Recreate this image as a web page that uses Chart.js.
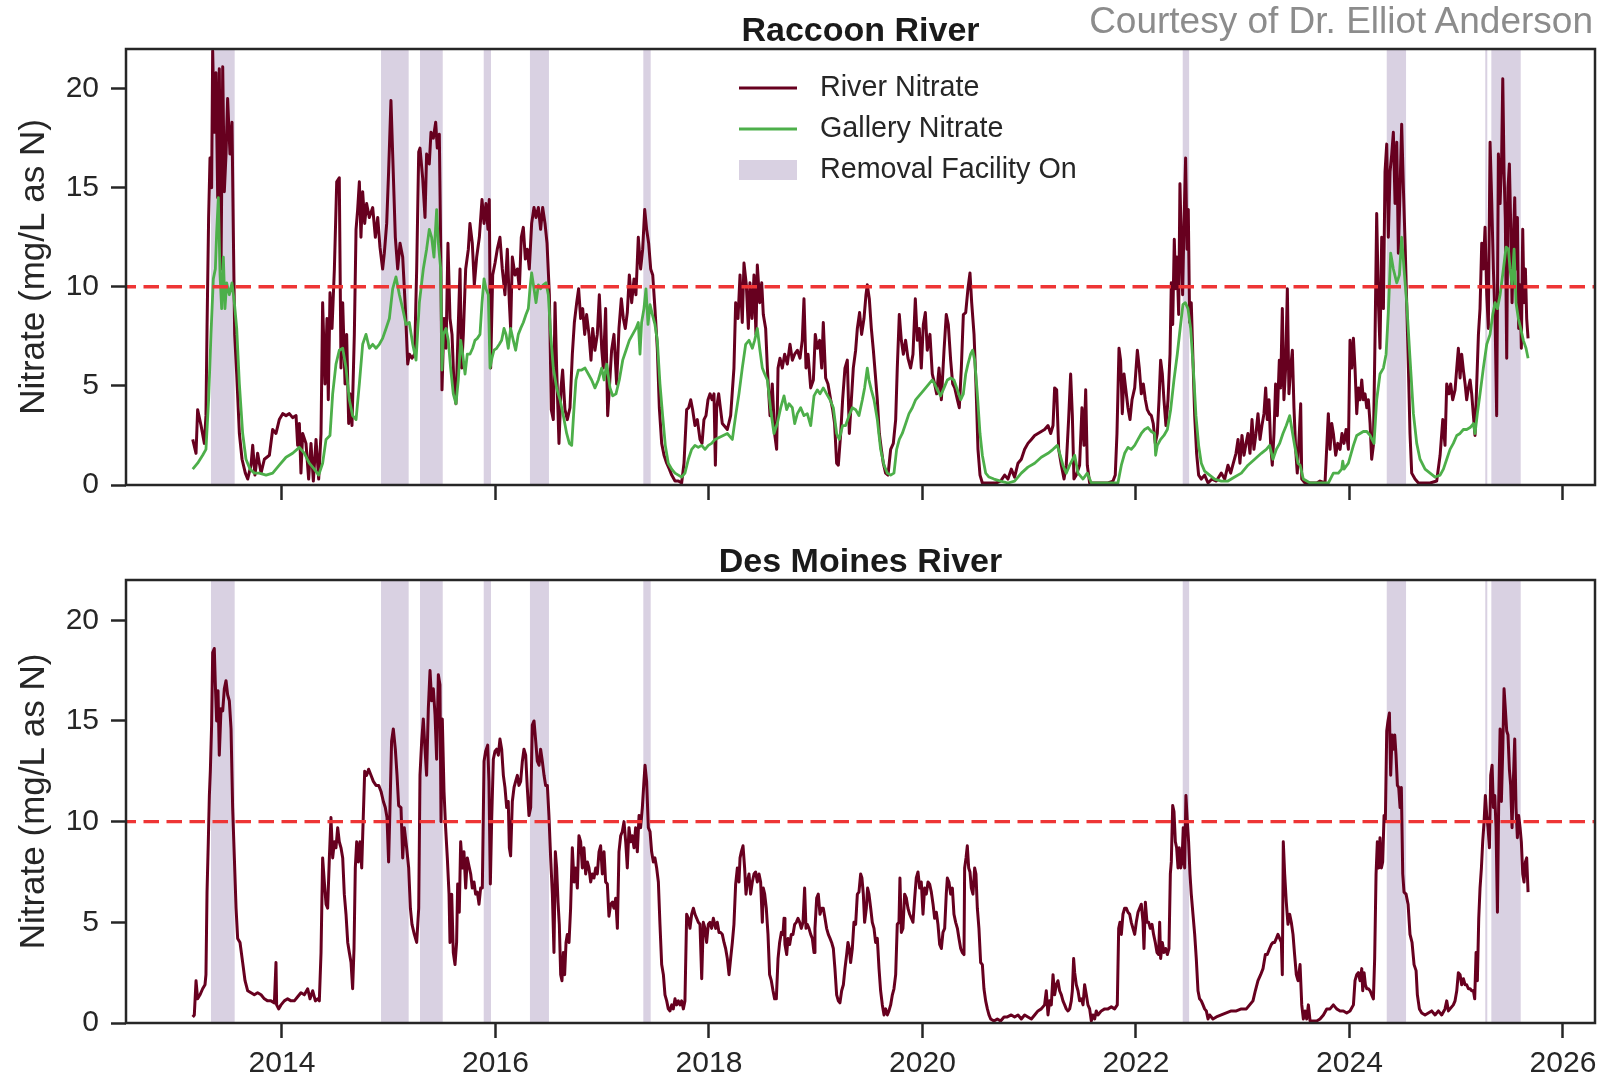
<!DOCTYPE html>
<html>
<head>
<meta charset="utf-8">
<title>Nitrate</title>
<script src="https://cdn.jsdelivr.net/npm/chart.js@4.4.1/dist/chart.umd.min.js"></script>
<style>
  html, body { margin: 0; padding: 0; background: #fff; }
  #page { position: relative; width: 1621px; height: 1078px; font-family: "Liberation Sans", Arial, sans-serif; }
  #top { position: absolute; left: 0; top: 0; width: 1621px; height: 515px; }
  #bottom { position: absolute; left: 0; top: 515px; width: 1621px; height: 563px; }
  #credit { position: absolute; right: 28px; top: 2px; font-size: 37px; line-height: 37px; color: #8c8c8c; white-space: nowrap; }
</style>
</head>
<body>
<div id="page">
  <div id="top"><canvas id="raccoon" width="1621" height="515"></canvas></div>
  <div id="bottom"><canvas id="desmoines" width="1621" height="563"></canvas></div>
  <div id="credit">Courtesy of Dr. Elliot Anderson</div>
</div>
<script>
// ---- data (decimal year, mg/L as N) ----
const xTickYears = [2014, 2016, 2018, 2020, 2022, 2024, 2026];
const yTickValues = [0, 5, 10, 15, 20];
const nitrateLimit = 10;

// periods when the removal facility ran [start, end]
const removalPeriods = [
  [2013.335, 2013.557], [2014.928, 2015.187], [2015.293, 2015.506], [2015.890, 2015.958],
  [2016.323, 2016.501], [2017.385, 2017.454], [2022.438, 2022.498], [2024.349, 2024.530],
  [2025.272, 2025.291], [2025.329, 2025.604]
];

const raccoonRiver = [
  [2013.164,2.3],[2013.195,1.6],[2013.210,3.8],[2013.242,3.0],[2013.273,2.1],[2013.288,3.5],[2013.298,7.9],[2013.313,13.5],[2013.326,16.5],[2013.341,15.0],
  [2013.351,21.9],[2013.366,17.8],[2013.382,20.8],[2013.398,14.5],[2013.413,21.0],[2013.429,10.9],[2013.445,21.1],[2013.460,14.8],[2013.476,16.7],[2013.491,19.5],
  [2013.513,16.7],[2013.532,18.3],[2013.544,12.9],[2013.557,7.6],[2013.576,5.6],[2013.601,2.6],[2013.626,1.3],[2013.657,0.6],[2013.679,0.3],[2013.710,1.0],
  [2013.726,2.0],[2013.747,0.5],[2013.772,1.6],[2013.804,0.6],[2013.835,1.3],[2013.882,1.5],[2013.913,2.8],[2013.944,2.6],[2013.975,3.3],[2014.007,3.6],
  [2014.038,3.5],[2014.069,3.6],[2014.100,3.4],[2014.132,3.5],[2014.147,2.0],[2014.163,3.1],[2014.178,0.6],[2014.194,2.6],[2014.225,2.1],[2014.250,0.3],
  [2014.272,2.1],[2014.294,0.2],[2014.319,2.3],[2014.344,0.3],[2014.366,2.6],[2014.381,9.2],[2014.403,5.1],[2014.422,8.4],[2014.434,4.3],[2014.450,9.7],
  [2014.469,7.9],[2014.491,10.9],[2014.513,15.3],[2014.537,15.5],[2014.553,5.9],[2014.569,9.2],[2014.591,5.1],[2014.606,7.6],[2014.625,3.1],[2014.637,4.6],
  [2014.656,3.0],[2014.678,7.6],[2014.694,12.9],[2014.709,13.9],[2014.725,15.3],[2014.740,12.5],[2014.756,14.8],[2014.775,13.2],[2014.793,14.2],[2014.818,13.5],
  [2014.850,14.0],[2014.875,12.5],[2014.897,13.5],[2014.918,12.0],[2014.943,10.9],[2014.959,11.7],[2014.981,13.2],[2014.999,15.8],[2015.021,19.4],[2015.037,16.7],
  [2015.062,12.5],[2015.084,10.9],[2015.106,12.2],[2015.131,11.5],[2015.156,8.9],[2015.178,6.1],[2015.193,6.6],[2015.218,6.4],[2015.243,6.6],[2015.262,10.9],
  [2015.281,16.8],[2015.293,17.0],[2015.318,15.5],[2015.340,13.5],[2015.355,16.7],[2015.380,16.2],[2015.396,17.8],[2015.418,17.5],[2015.440,18.3],[2015.455,17.0],
  [2015.474,17.7],[2015.487,12.0],[2015.499,4.8],[2015.518,8.4],[2015.537,6.9],[2015.555,12.2],[2015.574,8.4],[2015.593,7.6],[2015.611,5.1],[2015.630,4.1],
  [2015.649,7.6],[2015.668,10.9],[2015.683,5.9],[2015.699,7.6],[2015.721,10.9],[2015.746,11.9],[2015.761,13.2],[2015.783,12.2],[2015.802,10.1],[2015.824,11.5],
  [2015.849,12.5],[2015.874,14.4],[2015.893,13.2],[2015.911,14.2],[2015.930,12.9],[2015.942,14.4],[2015.955,5.9],[2015.974,10.6],[2015.996,11.2],[2016.017,11.9],
  [2016.042,12.5],[2016.064,10.9],[2016.089,9.6],[2016.111,11.9],[2016.130,9.2],[2016.142,7.9],[2016.158,11.5],[2016.183,10.6],[2016.205,10.9],[2016.224,9.9],
  [2016.242,12.5],[2016.261,13.0],[2016.280,11.4],[2016.298,11.9],[2016.317,10.9],[2016.339,13.2],[2016.361,14.0],[2016.380,13.5],[2016.402,14.0],[2016.423,12.9],
  [2016.442,14.0],[2016.464,13.2],[2016.483,12.2],[2016.505,9.6],[2016.523,3.8],[2016.542,3.3],[2016.558,9.2],[2016.573,5.9],[2016.595,2.1],[2016.614,4.9],
  [2016.629,5.8],[2016.651,3.8],[2016.673,3.3],[2016.698,3.9],[2016.720,6.6],[2016.739,8.2],[2016.761,9.2],[2016.779,9.9],[2016.798,8.4],[2016.817,8.9],
  [2016.836,7.6],[2016.854,8.6],[2016.876,7.6],[2016.895,6.3],[2016.911,7.9],[2016.932,6.8],[2016.954,7.6],[2016.973,9.6],[2016.995,6.9],[2017.010,5.9],
  [2017.032,8.9],[2017.051,3.5],[2017.067,4.9],[2017.088,6.8],[2017.110,7.6],[2017.135,5.1],[2017.157,7.9],[2017.179,9.4],[2017.198,8.4],[2017.216,7.9],
  [2017.235,8.7],[2017.254,10.6],[2017.276,9.2],[2017.298,10.4],[2017.316,9.6],[2017.338,12.5],[2017.360,10.9],[2017.379,11.9],[2017.398,13.9],[2017.416,12.9],
  [2017.435,12.2],[2017.454,10.9],[2017.473,10.6],[2017.494,8.9],[2017.516,6.9],[2017.535,3.9],[2017.557,2.1],[2017.579,1.5],[2017.604,1.1],[2017.629,0.8],
  [2017.651,0.5],[2017.682,0.2],[2017.713,0.2],[2017.744,0.1],[2017.766,1.1],[2017.791,3.8],[2017.810,3.9],[2017.829,4.3],[2017.847,3.8],[2017.869,3.0],
  [2017.891,3.3],[2017.916,2.3],[2017.935,2.1],[2017.953,3.3],[2017.972,3.5],[2017.991,4.3],[2018.010,4.6],[2018.029,4.3],[2018.047,4.6],[2018.060,1.0],
  [2018.072,3.9],[2018.091,4.6],[2018.125,3.1],[2018.172,2.8],[2018.203,3.5],[2018.234,5.9],[2018.250,9.2],[2018.272,8.4],[2018.291,10.6],[2018.312,8.2],
  [2018.328,11.2],[2018.350,10.1],[2018.369,7.9],[2018.384,10.2],[2018.403,8.4],[2018.422,10.6],[2018.440,7.6],[2018.453,11.1],[2018.475,9.2],[2018.494,10.2],
  [2018.509,8.6],[2018.531,7.9],[2018.547,5.9],[2018.572,3.5],[2018.593,5.1],[2018.615,2.6],[2018.634,1.8],[2018.647,5.9],[2018.665,6.4],[2018.687,5.9],
  [2018.709,6.6],[2018.734,6.1],[2018.759,7.1],[2018.781,6.3],[2018.803,6.6],[2018.828,6.8],[2018.853,6.4],[2018.874,7.3],[2018.890,9.4],[2018.909,5.9],
  [2018.928,6.6],[2018.953,4.9],[2018.978,5.3],[2018.996,7.6],[2019.015,6.9],[2019.037,7.3],[2019.056,5.9],[2019.071,8.2],[2019.093,5.4],[2019.115,5.1],
  [2019.140,4.3],[2019.159,3.8],[2019.177,3.1],[2019.196,1.1],[2019.212,1.0],[2019.234,2.6],[2019.252,4.3],[2019.274,5.9],[2019.296,6.3],[2019.315,2.6],
  [2019.334,4.3],[2019.352,5.9],[2019.374,6.8],[2019.390,7.9],[2019.411,8.7],[2019.430,7.6],[2019.452,8.4],[2019.471,9.6],[2019.483,10.1],[2019.502,9.4],
  [2019.521,7.9],[2019.540,6.8],[2019.558,5.6],[2019.577,4.3],[2019.596,2.6],[2019.615,1.8],[2019.633,1.1],[2019.655,0.6],[2019.677,0.5],[2019.702,1.8],
  [2019.727,2.1],[2019.749,3.3],[2019.764,5.9],[2019.783,8.6],[2019.802,7.3],[2019.821,6.6],[2019.842,7.3],[2019.864,6.4],[2019.889,5.9],[2019.911,6.6],
  [2019.933,9.4],[2019.952,7.3],[2019.970,7.9],[2019.989,5.9],[2020.008,8.1],[2020.027,8.7],[2020.045,6.8],[2020.070,7.6],[2020.092,5.6],[2020.114,5.1],
  [2020.133,4.6],[2020.155,5.9],[2020.177,4.3],[2020.202,6.8],[2020.223,8.6],[2020.242,8.1],[2020.264,6.3],[2020.283,5.1],[2020.302,4.9],[2020.327,4.3],
  [2020.345,3.9],[2020.364,5.9],[2020.383,8.6],[2020.405,8.7],[2020.426,9.9],[2020.445,10.7],[2020.461,9.2],[2020.483,7.6],[2020.501,5.1],[2020.520,1.8],
  [2020.539,0.5],[2020.561,0.1],[2020.592,0.1],[2020.639,0.1],[2020.686,0.1],[2020.732,0.2],[2020.770,0.5],[2020.801,0.3],[2020.832,0.8],[2020.863,0.4],
  [2020.895,1.1],[2020.926,1.3],[2020.957,1.8],[2020.988,2.1],[2021.020,2.3],[2021.051,2.5],[2021.082,2.6],[2021.113,2.7],[2021.144,2.8],[2021.176,3.0],
  [2021.201,2.6],[2021.223,3.0],[2021.238,4.9],[2021.257,4.8],[2021.276,1.8],[2021.301,1.0],[2021.326,0.3],[2021.347,1.0],[2021.369,3.3],[2021.388,5.6],
  [2021.404,3.5],[2021.419,0.3],[2021.441,0.5],[2021.472,1.0],[2021.494,3.9],[2021.513,2.0],[2021.529,4.8],[2021.544,1.0],[2021.566,0.1],[2021.613,0.1],
  [2021.675,0.1],[2021.738,0.1],[2021.785,0.2],[2021.806,0.5],[2021.822,2.6],[2021.841,6.9],[2021.856,6.3],[2021.872,3.6],[2021.888,5.6],[2021.903,4.9],
  [2021.925,3.9],[2021.944,3.3],[2021.963,4.3],[2021.988,4.9],[2022.013,6.8],[2022.031,5.9],[2022.050,4.6],[2022.069,5.1],[2022.088,4.3],[2022.106,3.8],
  [2022.125,3.6],[2022.144,3.5],[2022.162,3.1],[2022.181,2.1],[2022.200,2.6],[2022.216,4.3],[2022.231,6.3],[2022.247,5.6],[2022.262,4.3],[2022.281,3.0],
  [2022.300,4.3],[2022.319,6.6],[2022.331,10.2],[2022.344,8.1],[2022.359,12.4],[2022.372,9.9],[2022.384,11.5],[2022.400,8.6],[2022.412,15.2],[2022.425,12.2],
  [2022.437,9.6],[2022.450,13.2],[2022.465,16.5],[2022.478,11.9],[2022.490,13.9],[2022.503,8.2],[2022.518,9.2],[2022.534,6.3],[2022.550,3.5],[2022.568,1.6],
  [2022.587,0.5],[2022.612,0.3],[2022.643,0.5],[2022.675,0.1],[2022.712,0.3],[2022.753,0.2],[2022.799,0.6],[2022.831,0.3],[2022.862,1.0],[2022.887,0.6],
  [2022.912,1.1],[2022.937,1.6],[2022.956,2.3],[2022.974,1.1],[2022.993,2.5],[2023.012,1.5],[2023.031,2.1],[2023.049,2.6],[2023.068,1.6],[2023.087,3.3],
  [2023.105,1.8],[2023.124,2.6],[2023.143,3.6],[2023.162,2.3],[2023.180,3.0],[2023.199,3.6],[2023.215,4.9],[2023.230,3.3],[2023.246,4.3],[2023.262,2.0],
  [2023.277,1.0],[2023.293,2.6],[2023.308,5.1],[2023.324,3.5],[2023.343,6.3],[2023.355,4.9],[2023.371,8.9],[2023.386,4.3],[2023.402,5.9],[2023.418,9.9],
  [2023.433,4.6],[2023.449,5.9],[2023.465,6.8],[2023.480,3.9],[2023.496,1.8],[2023.511,0.6],[2023.530,2.6],[2023.543,4.1],[2023.553,0.3],[2023.584,0.1],
  [2023.631,0.1],[2023.693,0.1],[2023.724,0.2],[2023.771,0.1],[2023.802,3.6],[2023.818,1.8],[2023.834,3.1],[2023.849,2.6],[2023.871,1.5],[2023.890,2.1],
  [2023.912,1.8],[2023.930,2.6],[2023.949,2.1],[2023.968,2.8],[2023.990,1.8],[2024.005,7.3],[2024.021,5.9],[2024.037,7.4],[2024.052,5.9],[2024.068,3.6],
  [2024.083,4.9],[2024.099,4.3],[2024.115,5.3],[2024.130,4.3],[2024.146,4.6],[2024.162,3.9],[2024.177,4.3],[2024.193,3.1],[2024.208,1.3],[2024.224,2.0],
  [2024.240,7.6],[2024.255,13.7],[2024.271,9.2],[2024.286,6.9],[2024.302,12.5],[2024.318,8.9],[2024.333,15.8],[2024.349,17.2],[2024.364,12.5],[2024.380,15.8],
  [2024.396,16.7],[2024.411,17.8],[2024.427,14.2],[2024.443,17.3],[2024.458,11.7],[2024.474,15.0],[2024.489,18.2],[2024.505,15.0],[2024.521,12.2],[2024.536,9.2],
  [2024.552,5.9],[2024.567,2.6],[2024.583,0.6],[2024.614,0.3],[2024.646,0.1],[2024.692,0.1],[2024.755,0.1],[2024.817,0.2],[2024.849,1.5],[2024.874,3.3],
  [2024.895,2.0],[2024.911,5.1],[2024.933,4.6],[2024.948,5.1],[2024.967,4.3],[2024.989,4.8],[2025.005,5.9],[2025.020,6.9],[2025.036,5.4],[2025.051,6.6],
  [2025.067,5.8],[2025.083,5.1],[2025.098,4.3],[2025.114,4.9],[2025.130,5.3],[2025.145,4.6],[2025.161,3.5],[2025.176,2.5],[2025.192,5.1],[2025.208,7.6],
  [2025.223,8.9],[2025.239,12.2],[2025.254,10.9],[2025.270,13.0],[2025.286,9.6],[2025.301,7.9],[2025.317,17.3],[2025.333,14.2],[2025.348,10.9],[2025.364,8.4],
  [2025.379,3.5],[2025.395,16.7],[2025.411,14.2],[2025.426,16.7],[2025.436,20.5],[2025.448,15.8],[2025.460,13.4],[2025.473,6.4],[2025.485,15.0],[2025.498,16.2],
  [2025.510,13.2],[2025.523,9.2],[2025.535,12.2],[2025.548,14.5],[2025.560,10.9],[2025.573,13.5],[2025.585,7.9],[2025.598,10.1],[2025.610,6.9],[2025.623,12.9],
  [2025.635,9.2],[2025.648,10.9],[2025.660,8.4],[2025.673,7.4]
];

const raccoonGallery = [
  [2013.164,0.8],[2013.210,1.1],[2013.257,1.5],[2013.288,1.8],[2013.313,4.3],[2013.335,7.6],[2013.357,10.4],[2013.376,10.9],[2013.388,12.7],[2013.404,14.5],
  [2013.420,10.6],[2013.435,8.9],[2013.451,11.5],[2013.466,8.9],[2013.482,10.2],[2013.507,9.6],[2013.532,10.2],[2013.554,9.2],[2013.576,7.9],[2013.601,5.1],
  [2013.632,2.6],[2013.663,1.3],[2013.701,0.8],[2013.741,0.6],[2013.788,0.6],[2013.851,0.5],[2013.913,0.6],[2013.975,1.0],[2014.038,1.4],[2014.100,1.6],
  [2014.163,1.9],[2014.210,1.6],[2014.256,1.1],[2014.303,0.8],[2014.344,0.5],[2014.381,1.1],[2014.413,2.3],[2014.450,2.5],[2014.475,4.6],[2014.506,6.1],
  [2014.537,6.8],[2014.569,6.9],[2014.600,5.9],[2014.631,4.3],[2014.662,3.5],[2014.694,3.3],[2014.725,5.1],[2014.756,7.1],[2014.787,7.6],[2014.819,6.9],
  [2014.850,7.1],[2014.881,6.9],[2014.912,7.1],[2014.943,7.4],[2014.975,7.9],[2015.006,8.4],[2015.037,9.9],[2015.068,10.5],[2015.100,9.6],[2015.131,8.9],
  [2015.162,8.1],[2015.193,8.2],[2015.225,7.1],[2015.256,6.3],[2015.287,9.2],[2015.324,10.9],[2015.355,11.9],[2015.380,12.9],[2015.402,12.5],[2015.424,11.5],
  [2015.449,13.9],[2015.465,12.2],[2015.487,10.9],[2015.499,5.8],[2015.512,7.6],[2015.537,7.9],[2015.558,7.3],[2015.580,5.9],[2015.605,4.6],[2015.630,4.1],
  [2015.652,5.3],[2015.674,7.3],[2015.693,6.6],[2015.715,5.6],[2015.736,6.6],[2015.761,6.6],[2015.786,6.9],[2015.808,7.3],[2015.830,7.4],[2015.855,7.6],
  [2015.874,9.2],[2015.893,10.4],[2015.911,9.9],[2015.933,9.6],[2015.949,5.9],[2015.967,6.4],[2015.986,6.8],[2016.011,6.9],[2016.036,7.1],[2016.058,7.3],
  [2016.080,7.9],[2016.099,7.6],[2016.120,6.9],[2016.142,7.9],[2016.167,7.3],[2016.189,6.8],[2016.214,7.6],[2016.236,7.9],[2016.261,8.2],[2016.286,8.6],
  [2016.308,8.9],[2016.323,9.9],[2016.339,10.7],[2016.361,9.9],[2016.380,9.2],[2016.402,10.1],[2016.423,9.9],[2016.448,10.1],[2016.473,10.2],[2016.495,9.6],
  [2016.517,7.6],[2016.542,5.9],[2016.573,4.9],[2016.605,4.3],[2016.636,3.5],[2016.667,2.6],[2016.692,2.1],[2016.714,2.0],[2016.736,3.9],[2016.754,5.3],
  [2016.776,5.8],[2016.807,5.8],[2016.839,5.9],[2016.870,5.6],[2016.901,5.3],[2016.932,4.9],[2016.964,5.3],[2016.995,5.9],[2017.017,5.3],[2017.042,6.1],
  [2017.073,4.9],[2017.098,4.5],[2017.129,4.6],[2017.160,5.3],[2017.192,6.3],[2017.223,6.8],[2017.254,7.3],[2017.285,7.6],[2017.316,7.9],[2017.338,8.2],
  [2017.354,6.6],[2017.369,8.2],[2017.391,8.9],[2017.410,9.9],[2017.429,8.1],[2017.448,9.1],[2017.470,8.6],[2017.494,8.1],[2017.516,7.3],[2017.541,5.1],
  [2017.566,3.5],[2017.591,2.0],[2017.619,1.1],[2017.651,0.8],[2017.682,0.6],[2017.713,0.5],[2017.744,0.4],[2017.775,0.6],[2017.807,1.3],[2017.838,1.8],
  [2017.869,2.0],[2017.900,1.9],[2017.932,2.0],[2017.963,1.8],[2017.994,2.0],[2018.025,2.1],[2018.057,2.3],[2018.172,2.6],[2018.219,2.3],[2018.250,3.5],
  [2018.281,4.6],[2018.312,5.9],[2018.344,7.1],[2018.375,7.3],[2018.406,6.9],[2018.428,7.3],[2018.453,7.9],[2018.475,6.9],[2018.500,5.9],[2018.522,5.6],
  [2018.547,5.3],[2018.578,3.8],[2018.609,2.6],[2018.640,3.1],[2018.672,3.9],[2018.703,4.5],[2018.728,3.8],[2018.750,4.1],[2018.781,3.9],[2018.803,3.1],
  [2018.828,3.6],[2018.859,3.9],[2018.890,3.5],[2018.921,3.6],[2018.953,3.0],[2018.984,4.5],[2019.015,4.8],[2019.040,4.6],[2019.071,4.9],[2019.102,4.6],
  [2019.134,4.3],[2019.165,3.9],[2019.196,2.6],[2019.221,2.3],[2019.252,3.0],[2019.280,3.0],[2019.312,3.5],[2019.343,3.9],[2019.374,3.8],[2019.405,3.5],
  [2019.437,4.3],[2019.458,4.9],[2019.483,5.9],[2019.499,5.3],[2019.521,4.8],[2019.546,4.3],[2019.577,3.3],[2019.608,1.8],[2019.640,1.0],[2019.671,0.6],
  [2019.702,0.5],[2019.733,0.6],[2019.758,1.8],[2019.783,2.3],[2019.811,2.6],[2019.843,3.1],[2019.874,3.6],[2019.905,3.9],[2019.936,4.3],[2019.967,4.5],
  [2019.999,4.7],[2020.030,4.9],[2020.061,5.1],[2020.092,5.3],[2020.114,5.1],[2020.139,4.8],[2020.170,4.5],[2020.202,4.9],[2020.233,5.3],[2020.264,5.4],
  [2020.295,5.3],[2020.327,4.8],[2020.358,4.3],[2020.383,4.6],[2020.405,5.6],[2020.426,6.1],[2020.451,6.6],[2020.470,6.8],[2020.489,6.3],[2020.514,4.6],
  [2020.539,2.6],[2020.561,1.5],[2020.592,0.6],[2020.623,0.4],[2020.670,0.3],[2020.732,0.2],[2020.801,0.1],[2020.863,0.2],[2020.926,0.6],[2020.988,0.9],
  [2021.051,1.1],[2021.113,1.4],[2021.176,1.6],[2021.223,1.8],[2021.263,2.0],[2021.285,1.6],[2021.316,1.0],[2021.347,0.6],[2021.379,1.0],[2021.426,1.5],
  [2021.457,0.6],[2021.504,0.3],[2021.544,0.6],[2021.582,0.1],[2021.675,0.1],[2021.769,0.1],[2021.831,0.1],[2021.863,1.0],[2021.894,1.6],[2021.925,1.9],
  [2021.956,1.8],[2021.988,2.0],[2022.019,2.3],[2022.050,2.6],[2022.081,2.8],[2022.113,2.9],[2022.144,2.7],[2022.175,2.6],[2022.184,1.5],[2022.200,2.0],
  [2022.231,2.3],[2022.262,2.5],[2022.294,2.8],[2022.325,3.8],[2022.356,5.3],[2022.387,6.6],[2022.418,8.1],[2022.440,9.1],[2022.462,9.2],[2022.487,8.9],
  [2022.512,7.9],[2022.537,5.9],[2022.562,3.5],[2022.587,2.0],[2022.612,1.1],[2022.643,0.7],[2022.690,0.5],[2022.737,0.3],[2022.799,0.2],[2022.862,0.2],
  [2022.924,0.4],[2022.987,0.6],[2023.049,1.0],[2023.112,1.3],[2023.174,1.6],[2023.221,1.8],[2023.252,2.0],[2023.283,1.3],[2023.315,1.8],[2023.346,2.1],
  [2023.377,2.6],[2023.408,3.0],[2023.440,3.5],[2023.461,2.8],[2023.486,2.0],[2023.518,1.1],[2023.537,1.0],[2023.568,0.3],[2023.631,0.1],[2023.724,0.1],
  [2023.802,0.1],[2023.849,0.6],[2023.896,0.6],[2023.927,0.8],[2023.937,1.2],[2023.949,0.8],[2023.990,1.1],[2024.037,2.0],[2024.068,2.5],[2024.099,2.6],
  [2024.130,2.7],[2024.162,2.7],[2024.193,2.5],[2024.230,2.1],[2024.255,4.3],[2024.286,5.6],[2024.318,5.9],[2024.343,6.6],[2024.364,8.7],[2024.386,11.7],
  [2024.411,10.9],[2024.443,10.2],[2024.468,10.6],[2024.489,12.5],[2024.511,10.9],[2024.536,9.2],[2024.567,6.4],[2024.599,3.6],[2024.630,2.1],[2024.661,1.3],
  [2024.708,0.8],[2024.755,0.6],[2024.802,0.4],[2024.849,0.5],[2024.880,0.8],[2024.911,1.3],[2024.942,1.8],[2024.973,2.1],[2025.005,2.5],[2025.036,2.6],
  [2025.067,2.8],[2025.098,2.8],[2025.130,2.9],[2025.161,3.1],[2025.176,2.6],[2025.198,3.6],[2025.223,4.6],[2025.254,5.9],[2025.286,7.1],[2025.317,7.6],
  [2025.342,8.6],[2025.364,9.2],[2025.386,8.9],[2025.411,9.6],[2025.442,10.9],[2025.467,12.0],[2025.489,11.9],[2025.504,10.9],[2025.523,10.1],[2025.542,11.9],
  [2025.560,9.2],[2025.582,8.4],[2025.604,7.9],[2025.629,7.3],[2025.654,6.9],[2025.673,6.4]
];

const desMoinesRiver = [
  [2013.164,0.3],[2013.179,0.4],[2013.195,2.1],[2013.210,1.2],[2013.232,1.4],[2013.257,1.7],[2013.279,1.9],[2013.288,2.4],[2013.298,6.5],[2013.310,9.0],
  [2013.320,11.3],[2013.329,12.5],[2013.341,14.8],[2013.351,18.4],[2013.366,18.6],[2013.376,16.8],[2013.388,15.0],[2013.401,16.5],[2013.413,13.3],[2013.429,15.6],
  [2013.445,15.5],[2013.460,16.6],[2013.476,17.0],[2013.491,16.3],[2013.507,16.0],[2013.523,14.6],[2013.538,10.7],[2013.554,8.2],[2013.570,5.7],[2013.585,4.2],
  [2013.607,4.0],[2013.632,3.0],[2013.654,2.1],[2013.679,1.6],[2013.710,1.5],[2013.741,1.4],[2013.772,1.5],[2013.804,1.4],[2013.835,1.2],[2013.866,1.1],
  [2013.897,1.1],[2013.929,1.0],[2013.944,3.0],[2013.950,0.9],[2013.969,0.7],[2013.991,0.9],[2014.022,1.1],[2014.053,1.2],[2014.085,1.1],[2014.116,1.1],
  [2014.147,1.3],[2014.178,1.5],[2014.210,1.4],[2014.241,1.7],[2014.263,1.2],[2014.288,1.6],[2014.313,1.1],[2014.334,1.2],[2014.350,1.1],[2014.366,3.5],
  [2014.381,8.2],[2014.397,7.0],[2014.413,5.9],[2014.428,5.7],[2014.444,8.2],[2014.459,10.2],[2014.475,8.2],[2014.491,9.0],[2014.506,8.7],[2014.522,9.7],
  [2014.537,9.0],[2014.553,8.7],[2014.569,8.2],[2014.584,6.4],[2014.600,5.4],[2014.616,4.0],[2014.631,3.5],[2014.647,3.0],[2014.662,1.7],[2014.675,3.7],
  [2014.687,7.7],[2014.700,9.0],[2014.715,8.0],[2014.731,9.0],[2014.747,7.7],[2014.762,10.3],[2014.775,12.5],[2014.793,12.3],[2014.812,12.6],[2014.834,12.3],
  [2014.856,12.0],[2014.881,11.8],[2014.906,11.8],[2014.928,11.5],[2014.950,11.0],[2014.968,10.7],[2014.984,10.2],[2014.999,8.0],[2015.012,10.7],[2015.027,14.0],
  [2015.043,14.6],[2015.062,13.6],[2015.078,12.3],[2015.093,10.8],[2015.115,10.7],[2015.131,8.2],[2015.146,9.7],[2015.168,8.7],[2015.187,7.7],[2015.203,5.7],
  [2015.218,4.9],[2015.240,4.4],[2015.262,4.0],[2015.281,5.7],[2015.293,12.3],[2015.309,14.0],[2015.324,15.1],[2015.340,13.6],[2015.355,12.3],[2015.371,15.6],
  [2015.387,17.5],[2015.402,16.0],[2015.418,16.6],[2015.434,15.3],[2015.449,13.1],[2015.465,17.3],[2015.480,16.8],[2015.490,10.0],[2015.502,15.1],[2015.518,11.5],
  [2015.533,9.7],[2015.549,8.2],[2015.565,6.4],[2015.574,4.0],[2015.590,6.4],[2015.605,3.5],[2015.621,2.9],[2015.636,4.0],[2015.646,6.9],[2015.661,5.5],
  [2015.674,9.0],[2015.690,7.7],[2015.705,8.5],[2015.721,6.7],[2015.736,8.2],[2015.752,7.8],[2015.768,7.4],[2015.783,6.7],[2015.799,7.0],[2015.814,6.4],
  [2015.830,6.5],[2015.846,5.9],[2015.861,6.7],[2015.877,6.7],[2015.893,13.0],[2015.908,13.5],[2015.927,13.8],[2015.939,12.0],[2015.952,6.9],[2015.964,10.0],
  [2015.980,13.1],[2015.996,13.5],[2016.011,13.6],[2016.027,13.3],[2016.042,14.1],[2016.058,13.6],[2016.074,12.3],[2016.089,11.7],[2016.105,10.7],[2016.120,11.0],
  [2016.130,8.7],[2016.142,8.3],[2016.158,11.0],[2016.174,11.7],[2016.189,12.0],[2016.205,12.3],[2016.220,11.8],[2016.236,12.0],[2016.252,13.0],[2016.267,13.6],
  [2016.283,13.3],[2016.298,11.7],[2016.314,10.3],[2016.330,10.7],[2016.345,14.8],[2016.361,15.0],[2016.377,14.0],[2016.392,13.0],[2016.408,12.8],[2016.423,13.6],
  [2016.439,13.0],[2016.455,12.3],[2016.470,11.8],[2016.486,11.8],[2016.501,10.3],[2016.517,8.2],[2016.533,6.4],[2016.548,3.5],[2016.561,8.5],[2016.573,7.7],
  [2016.586,6.0],[2016.598,4.9],[2016.611,2.4],[2016.623,2.1],[2016.636,3.5],[2016.648,2.4],[2016.661,4.0],[2016.673,4.4],[2016.689,4.0],[2016.704,5.7],
  [2016.720,8.7],[2016.736,7.0],[2016.751,7.7],[2016.767,6.7],[2016.782,9.3],[2016.798,9.0],[2016.814,7.7],[2016.829,8.7],[2016.845,7.4],[2016.861,8.0],
  [2016.876,7.7],[2016.892,7.0],[2016.907,7.4],[2016.923,7.2],[2016.939,7.7],[2016.954,7.4],[2016.970,8.5],[2016.985,8.8],[2017.001,7.4],[2017.017,8.5],
  [2017.032,7.0],[2017.048,6.9],[2017.063,5.3],[2017.079,5.9],[2017.095,6.0],[2017.110,5.7],[2017.126,6.2],[2017.142,4.7],[2017.157,8.5],[2017.173,9.3],
  [2017.188,9.5],[2017.204,10.0],[2017.220,9.0],[2017.235,7.7],[2017.251,9.7],[2017.266,9.0],[2017.282,9.3],[2017.298,8.7],[2017.313,9.7],[2017.329,8.5],
  [2017.345,10.3],[2017.360,9.7],[2017.376,10.7],[2017.391,12.0],[2017.401,12.8],[2017.416,12.0],[2017.432,9.7],[2017.448,9.5],[2017.463,8.5],[2017.479,8.0],
  [2017.494,8.2],[2017.510,7.7],[2017.526,7.0],[2017.541,4.9],[2017.557,2.9],[2017.573,2.4],[2017.588,1.4],[2017.604,1.1],[2017.619,0.7],[2017.635,0.6],
  [2017.651,0.9],[2017.666,0.7],[2017.682,1.2],[2017.697,0.9],[2017.713,1.1],[2017.729,0.9],[2017.744,1.1],[2017.760,0.7],[2017.775,1.1],[2017.791,5.4],
  [2017.807,5.2],[2017.822,4.7],[2017.838,5.4],[2017.854,5.7],[2017.869,5.4],[2017.885,5.2],[2017.900,5.0],[2017.916,4.9],[2017.932,2.2],[2017.947,5.0],
  [2017.963,4.7],[2017.978,4.0],[2017.994,4.9],[2018.010,5.0],[2018.025,4.7],[2018.041,5.2],[2018.063,4.7],[2018.078,5.0],[2018.094,4.5],[2018.109,4.5],
  [2018.125,4.4],[2018.141,4.0],[2018.156,3.7],[2018.172,3.2],[2018.188,2.4],[2018.203,3.2],[2018.219,4.0],[2018.234,4.9],[2018.250,6.9],[2018.266,7.7],
  [2018.281,7.0],[2018.291,8.2],[2018.303,8.5],[2018.319,8.8],[2018.334,7.7],[2018.347,6.4],[2018.359,7.0],[2018.375,7.4],[2018.390,6.4],[2018.406,7.0],
  [2018.422,7.4],[2018.437,7.5],[2018.453,7.0],[2018.469,7.4],[2018.484,7.0],[2018.500,5.0],[2018.509,6.7],[2018.522,6.4],[2018.537,5.7],[2018.553,4.4],
  [2018.568,2.4],[2018.584,2.1],[2018.600,1.6],[2018.615,1.2],[2018.631,1.2],[2018.647,3.2],[2018.662,4.0],[2018.678,4.5],[2018.693,4.4],[2018.703,5.2],
  [2018.712,3.9],[2018.728,3.4],[2018.740,4.2],[2018.756,3.9],[2018.771,4.4],[2018.787,4.4],[2018.803,4.9],[2018.818,5.0],[2018.834,5.2],[2018.850,5.0],
  [2018.865,4.7],[2018.881,5.0],[2018.896,6.7],[2018.909,4.7],[2018.921,4.9],[2018.937,4.7],[2018.953,4.4],[2018.968,4.2],[2018.984,3.5],[2018.993,4.7],
  [2019.009,6.2],[2019.024,6.4],[2019.040,5.4],[2019.056,5.7],[2019.071,5.7],[2019.087,5.2],[2019.102,4.7],[2019.118,4.4],[2019.134,4.2],[2019.149,4.0],
  [2019.165,3.7],[2019.180,2.7],[2019.196,1.4],[2019.212,1.1],[2019.227,1.0],[2019.243,1.6],[2019.259,1.9],[2019.274,2.7],[2019.290,3.4],[2019.302,4.0],
  [2019.315,3.7],[2019.327,3.0],[2019.343,3.7],[2019.358,5.0],[2019.374,4.9],[2019.390,6.4],[2019.405,6.5],[2019.421,7.4],[2019.433,7.2],[2019.446,6.4],
  [2019.458,5.0],[2019.474,5.7],[2019.486,6.7],[2019.499,6.4],[2019.515,5.7],[2019.530,5.0],[2019.546,4.7],[2019.561,4.0],[2019.577,4.2],[2019.593,2.7],
  [2019.608,1.6],[2019.624,0.9],[2019.640,0.4],[2019.655,0.7],[2019.671,0.4],[2019.686,0.6],[2019.702,0.9],[2019.718,1.4],[2019.733,1.7],[2019.749,2.4],
  [2019.764,4.9],[2019.780,5.0],[2019.789,7.2],[2019.802,4.5],[2019.817,4.7],[2019.833,6.4],[2019.849,6.2],[2019.864,5.7],[2019.880,5.4],[2019.896,5.2],
  [2019.911,5.0],[2019.927,6.2],[2019.942,7.2],[2019.958,7.5],[2019.974,6.7],[2019.989,7.0],[2020.005,5.4],[2020.020,6.7],[2020.036,6.4],[2020.052,7.0],
  [2020.067,6.9],[2020.083,6.5],[2020.099,5.9],[2020.114,5.2],[2020.130,5.5],[2020.145,4.9],[2020.161,3.9],[2020.177,3.7],[2020.192,4.5],[2020.208,4.7],
  [2020.223,6.4],[2020.233,7.2],[2020.248,7.0],[2020.264,6.4],[2020.280,6.7],[2020.295,5.4],[2020.311,5.0],[2020.327,4.7],[2020.342,4.2],[2020.358,3.7],
  [2020.373,3.5],[2020.389,3.4],[2020.395,7.7],[2020.408,8.2],[2020.420,8.8],[2020.433,7.7],[2020.445,7.5],[2020.458,6.7],[2020.473,6.4],[2020.489,7.7],
  [2020.501,7.4],[2020.514,5.7],[2020.529,4.7],[2020.545,3.0],[2020.561,2.9],[2020.576,1.7],[2020.592,1.1],[2020.608,0.7],[2020.623,0.4],[2020.639,0.2],
  [2020.670,0.1],[2020.701,0.2],[2020.732,0.1],[2020.764,0.3],[2020.795,0.3],[2020.832,0.4],[2020.863,0.3],[2020.895,0.4],[2020.926,0.2],[2020.957,0.4],
  [2020.988,0.3],[2021.020,0.2],[2021.051,0.4],[2021.082,0.6],[2021.113,0.7],[2021.144,0.9],[2021.160,1.6],[2021.176,0.4],[2021.191,1.1],[2021.207,0.9],
  [2021.223,2.4],[2021.238,1.4],[2021.254,1.9],[2021.269,2.1],[2021.285,1.6],[2021.301,1.4],[2021.316,1.1],[2021.332,0.9],[2021.347,0.7],[2021.363,0.6],
  [2021.379,0.7],[2021.394,1.1],[2021.404,1.6],[2021.416,3.2],[2021.426,2.5],[2021.441,1.9],[2021.457,1.6],[2021.472,1.1],[2021.488,1.2],[2021.504,0.9],
  [2021.519,1.9],[2021.535,1.4],[2021.550,0.9],[2021.566,0.7],[2021.582,0.1],[2021.597,0.4],[2021.613,0.2],[2021.628,0.6],[2021.644,0.4],[2021.675,0.6],
  [2021.707,0.7],[2021.738,0.7],[2021.769,0.8],[2021.800,0.7],[2021.825,0.9],[2021.838,4.7],[2021.850,5.0],[2021.863,4.4],[2021.878,5.4],[2021.894,5.7],
  [2021.910,5.7],[2021.925,5.5],[2021.941,5.4],[2021.956,5.0],[2021.972,4.7],[2021.988,4.4],[2022.003,5.0],[2022.019,5.5],[2022.034,5.7],[2022.050,5.9],
  [2022.066,5.0],[2022.075,3.7],[2022.088,6.0],[2022.103,5.0],[2022.119,5.0],[2022.134,4.7],[2022.150,4.9],[2022.165,4.4],[2022.181,4.0],[2022.197,3.5],
  [2022.212,3.4],[2022.222,5.0],[2022.231,3.2],[2022.247,4.0],[2022.262,3.5],[2022.278,3.7],[2022.294,3.4],[2022.309,3.7],[2022.322,7.4],[2022.331,8.0],
  [2022.344,10.8],[2022.356,10.5],[2022.369,9.0],[2022.381,8.7],[2022.394,7.7],[2022.406,8.7],[2022.419,7.7],[2022.431,8.0],[2022.443,9.7],[2022.456,7.7],
  [2022.468,11.3],[2022.481,10.0],[2022.493,9.0],[2022.506,7.4],[2022.518,6.4],[2022.534,5.4],[2022.550,4.4],[2022.565,3.2],[2022.581,1.6],[2022.596,1.2],
  [2022.612,1.1],[2022.628,0.9],[2022.643,0.7],[2022.659,0.6],[2022.675,0.2],[2022.690,0.4],[2022.721,0.2],[2022.753,0.3],[2022.799,0.4],[2022.846,0.5],
  [2022.893,0.6],[2022.940,0.6],[2022.987,0.7],[2023.034,0.7],[2023.065,0.9],[2023.096,1.1],[2023.118,1.6],[2023.143,2.1],[2023.168,2.4],[2023.190,2.7],
  [2023.212,3.4],[2023.230,3.4],[2023.252,3.7],[2023.268,3.9],[2023.283,4.0],[2023.299,4.0],[2023.315,4.2],[2023.330,4.4],[2023.346,4.2],[2023.362,4.0],
  [2023.371,2.4],[2023.380,9.0],[2023.393,7.4],[2023.408,6.0],[2023.424,4.9],[2023.440,5.4],[2023.455,5.0],[2023.471,4.4],[2023.486,3.4],[2023.502,2.4],
  [2023.518,2.1],[2023.537,2.9],[2023.553,0.9],[2023.568,0.2],[2023.584,0.6],[2023.599,0.2],[2023.615,0.9],[2023.631,0.1],[2023.662,0.1],[2023.693,0.1],
  [2023.724,0.2],[2023.756,0.4],[2023.787,0.7],[2023.818,0.7],[2023.849,0.9],[2023.880,0.7],[2023.912,0.6],[2023.943,0.6],[2023.974,0.5],[2024.005,0.6],
  [2024.037,0.9],[2024.052,2.1],[2024.068,2.4],[2024.083,2.5],[2024.099,2.1],[2024.115,2.7],[2024.124,1.6],[2024.137,2.5],[2024.149,1.9],[2024.162,1.7],
  [2024.177,1.7],[2024.193,1.6],[2024.208,1.4],[2024.224,1.2],[2024.236,3.2],[2024.249,7.4],[2024.261,9.0],[2024.274,7.7],[2024.286,9.2],[2024.299,7.7],
  [2024.311,8.0],[2024.324,10.3],[2024.336,10.0],[2024.349,14.5],[2024.361,15.0],[2024.374,15.4],[2024.386,12.3],[2024.399,14.3],[2024.411,13.6],[2024.424,14.3],
  [2024.436,13.3],[2024.449,11.8],[2024.461,11.7],[2024.474,10.7],[2024.486,11.7],[2024.499,7.4],[2024.511,6.5],[2024.530,6.4],[2024.549,5.9],[2024.567,4.4],
  [2024.586,4.0],[2024.605,2.9],[2024.624,2.6],[2024.636,1.4],[2024.655,0.7],[2024.677,0.5],[2024.708,0.4],[2024.739,0.5],[2024.770,0.6],[2024.802,0.4],
  [2024.833,0.6],[2024.864,0.4],[2024.895,0.7],[2024.911,1.1],[2024.927,0.6],[2024.942,0.7],[2024.973,0.9],[2024.989,1.1],[2025.005,1.6],[2025.020,2.5],
  [2025.036,2.4],[2025.051,1.9],[2025.067,2.2],[2025.083,1.9],[2025.098,1.9],[2025.114,1.7],[2025.130,1.7],[2025.145,1.6],[2025.161,1.6],[2025.173,1.2],
  [2025.186,3.5],[2025.198,2.1],[2025.211,5.2],[2025.223,6.7],[2025.236,7.7],[2025.248,9.0],[2025.261,10.0],[2025.273,11.3],[2025.286,10.3],[2025.298,9.7],
  [2025.311,8.7],[2025.323,12.3],[2025.336,12.8],[2025.348,10.7],[2025.361,11.3],[2025.373,9.7],[2025.386,5.5],[2025.398,11.0],[2025.411,14.6],[2025.423,11.0],
  [2025.436,13.6],[2025.448,16.6],[2025.460,15.6],[2025.473,14.5],[2025.485,14.3],[2025.498,12.6],[2025.510,11.8],[2025.523,9.7],[2025.535,12.0],[2025.548,14.1],
  [2025.560,10.7],[2025.573,9.2],[2025.585,10.3],[2025.598,9.7],[2025.610,9.0],[2025.623,7.4],[2025.635,7.0],[2025.648,8.0],[2025.660,8.2],[2025.673,6.5]
];

// ---- look ----
const X_MIN = 2012.539, X_MAX = 2026.30, Y_MAX = 22;
const RIVER_COLOR = '#67001f';
const GALLERY_COLOR = '#4daf4a';
const LIMIT_COLOR = '#ee3535';
const SHADE_COLOR = 'rgb(217, 209, 226)';
const INK = '#262626';
const FONT = '"Liberation Sans", Arial, Helvetica, sans-serif';

Chart.defaults.font.family = FONT;
Chart.defaults.color = INK;

const toXY = arr => arr.map(p => ({x: p[0], y: p[1]}));

// shaded periods behind the lines
const shadePlugin = {
    id: 'shade',
    beforeDatasetsDraw(chart) {
        const {ctx, chartArea: a, scales: {x}} = chart;
        ctx.save();
        ctx.fillStyle = SHADE_COLOR;
        removalPeriods.forEach(([s, e]) => {
            const x1 = x.getPixelForValue(s);
            const x2 = x.getPixelForValue(e);
            ctx.fillRect(x1, a.top, Math.max(x2 - x1, 1), a.bottom - a.top);
        });
        ctx.restore();
    }
};

// box around the plot area (all four spines) + panel title centred on it
const framePlugin = {
    id: 'frame',
    afterDatasetsDraw(chart, args, opts) {
        const {ctx, chartArea: a} = chart;
        ctx.save();
        ctx.strokeStyle = INK;
        ctx.lineWidth = 2.5;
        ctx.strokeRect(a.left, a.top, a.right - a.left, a.bottom - a.top);
        ctx.fillStyle = '#1a1a1a';
        ctx.font = 'bold 34px ' + FONT;
        ctx.textAlign = 'center';
        ctx.textBaseline = 'middle';
        ctx.fillText(opts.title, (a.left + a.right) / 2, a.top - 17.5);
        ctx.restore();
    }
};

// legend drawn inside the upper plot
const legendPlugin = {
    id: 'insideLegend',
    afterDatasetsDraw(chart) {
        const {ctx, chartArea: a} = chart;
        const x0 = a.left + 613, sw = 58, tx = a.left + 694;
        const rows = [a.top + 39, a.top + 80, a.top + 121];
        ctx.save();
        ctx.lineWidth = 3;
        ctx.strokeStyle = RIVER_COLOR;
        ctx.beginPath(); ctx.moveTo(x0, rows[0]); ctx.lineTo(x0 + sw, rows[0]); ctx.stroke();
        ctx.strokeStyle = GALLERY_COLOR;
        ctx.beginPath(); ctx.moveTo(x0, rows[1]); ctx.lineTo(x0 + sw, rows[1]); ctx.stroke();
        ctx.fillStyle = SHADE_COLOR;
        ctx.fillRect(x0, rows[2] - 10, sw, 20);
        ctx.fillStyle = INK;
        ctx.font = '28.7px ' + FONT;
        ctx.textBaseline = 'middle';
        ctx.fillText('River Nitrate', tx, rows[0]);
        ctx.fillText('Gallery Nitrate', tx, rows[1]);
        ctx.fillText('Removal Facility On', tx, rows[2]);
        ctx.restore();
    }
};

function makeChart(canvasId, title, series, opts) {
    const datasets = [{
        label: 'Limit',
        data: [{x: X_MIN, y: nitrateLimit}, {x: X_MAX, y: nitrateLimit}],
        borderColor: LIMIT_COLOR,
        borderWidth: 3.4,
        borderDash: [15.5, 7.5],
        borderDashOffset: 5.5,
        pointRadius: 0
    }];
    if (series.gallery) {
        datasets.push({
            label: 'Gallery Nitrate',
            data: toXY(series.gallery),
            borderColor: GALLERY_COLOR,
            borderWidth: 2.8,
            pointRadius: 0,
            tension: 0,
            borderJoinStyle: 'round'
        });
    }
    datasets.push({
        label: 'River Nitrate',
        data: toXY(series.river),
        borderColor: RIVER_COLOR,
        borderWidth: 3,
        pointRadius: 0,
        tension: 0,
        borderJoinStyle: 'round'
    });

    const plugins = [shadePlugin, framePlugin];
    if (opts.legend) plugins.push(legendPlugin);

    return new Chart(document.getElementById(canvasId), {
        type: 'line',
        data: {datasets: datasets},
        plugins: plugins,
        options: {
            responsive: false,
            animation: false,
            events: [],
            layout: {padding: {top: opts.padTop, left: 0, right: 26, bottom: 0}},
            plugins: {
                legend: {display: false},
                tooltip: {enabled: false},
                title: {display: false},
                frame: {title: title}
            },
            scales: {
                x: {
                    type: 'linear',
                    min: X_MIN,
                    max: X_MAX,
                    afterBuildTicks: s => { s.ticks = xTickYears.map(v => ({value: v})); },
                    afterFit: s => { s.height = opts.xAxisHeight; },
                    border: {display: false},
                    grid: {drawOnChartArea: false, drawTicks: true, tickLength: 15, tickWidth: 2.5, tickColor: INK},
                    ticks: {
                        display: opts.xLabels,
                        font: {size: 30},
                        color: INK,
                        padding: 8,
                        maxRotation: 0,
                        callback: v => String(v)
                    }
                },
                y: {
                    min: 0,
                    max: Y_MAX,
                    afterBuildTicks: s => { s.ticks = yTickValues.map(v => ({value: v})); },
                    afterFit: s => { s.width = 126; },
                    border: {display: false},
                    grid: {drawOnChartArea: false, drawTicks: true, tickLength: 15, tickWidth: 2.5, tickColor: INK},
                    ticks: {font: {size: 30}, color: INK, padding: 12, callback: v => String(v)},
                    title: {
                        display: true,
                        text: 'Nitrate (mg/L as N)',
                        font: {size: 35},
                        color: INK,
                        padding: {top: 13, bottom: 0}
                    }
                }
            }
        }
    });
}

makeChart('raccoon', 'Raccoon River', {river: raccoonRiver, gallery: raccoonGallery},
    {padTop: 49, xAxisHeight: 22, xLabels: false, legend: true});
makeChart('desmoines', 'Des Moines River', {river: desMoinesRiver},
    {padTop: 65, xAxisHeight: 55, xLabels: true, legend: false});
</script>
</body>
</html>
